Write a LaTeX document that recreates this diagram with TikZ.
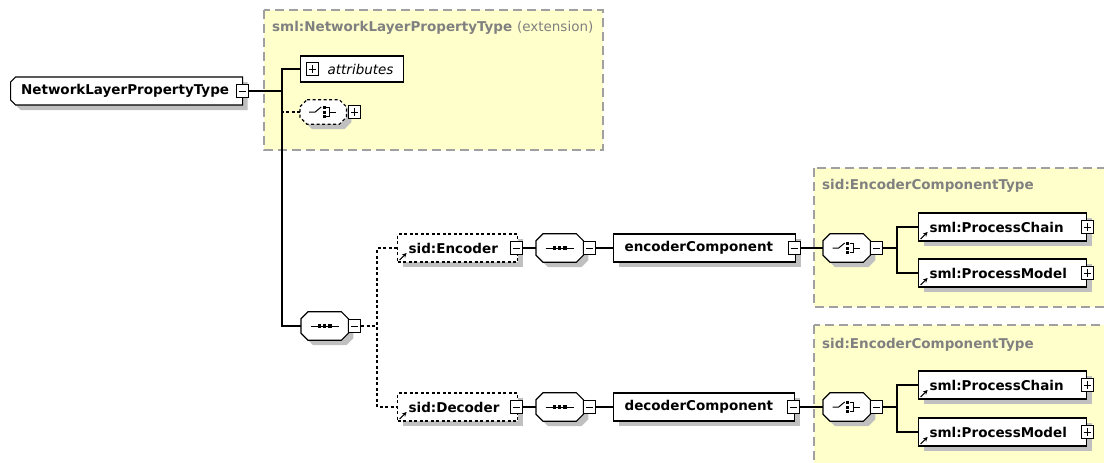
\documentclass[tikz,border=0pt]{standalone}
\usepackage{fontspec}
\setmainfont{DejaVu Sans}
\usetikzlibrary{shapes.misc, shadows, arrows.meta}
\definecolor{panelfill}{RGB}{255,255,204}
\definecolor{panelline}{RGB}{160,160,160}
\definecolor{titlegray}{RGB}{128,128,128}
\definecolor{shadowgray}{RGB}{192,192,192}
% octagon round a named node, moved by #2
\newcommand\octshape[2]{([shift={#2},xshift=7pt]#1.north west) -- ([shift={#2},xshift=-7pt]#1.north east)
    -- ([shift={#2},yshift=-7pt]#1.north east) -- ([shift={#2},yshift=7pt]#1.south east)
    -- ([shift={#2},xshift=-7pt]#1.south east) -- ([shift={#2},xshift=7pt]#1.south west)
    -- ([shift={#2},yshift=7pt]#1.south west) -- ([shift={#2},yshift=-7pt]#1.north west) -- cycle}
\newcommand\seqicon[1]{%
    \draw[line width=1pt] ([xshift=-14pt]#1.center) -- ([xshift=14pt]#1.center);
    \foreach \dx in {-7,-1.75,3.5} \fill ([shift={(\dx pt,-1.75pt)}]#1.center) rectangle ++(3.5pt,3.5pt);}
\newcommand\choiceicon[1]{%
    \draw[line width=1pt] ([xshift=-14pt]#1.center) -- ([xshift=-8pt]#1.center) -- ([shift={(-2pt,5pt)}]#1.center);
    \draw[line width=1pt] ([shift={(3pt,4.5pt)}]#1.center) -| ([shift={(6.5pt,-4.5pt)}]#1.center) -- ([shift={(3pt,-4.5pt)}]#1.center);
    \draw[line width=1pt] ([xshift=6.5pt]#1.center) -- ([xshift=13pt]#1.center);
    \foreach \dy in {3,-1.5,-6} \fill ([shift={(-0.5pt,\dy pt)}]#1.center) rectangle ++(3pt,3pt);}
\tikzset{
    lbl/.style={font=\fontsize{13.5}{15}\selectfont\bfseries},
    shad/.style={general shadow={fill=shadowgray, shadow xshift=5pt, shadow yshift=-5pt}},
    panel/.style={draw=panelline, fill=panelfill, line width=1.3pt, dash pattern=on 9pt off 5pt},
    ptitle/.style={text=titlegray, anchor=west, inner sep=0pt, lbl},
    conn/.style={line width=1.2pt},
    dconn/.style={conn, dash pattern=on 3pt off 2.5pt},
    opt/.style={dash pattern=on 3pt off 2.5pt},
    elem/.style={draw, fill=white, line width=1.2pt, minimum height=28pt, text width=#1, align=left, inner xsep=11pt, inner ysep=0pt, anchor=west, lbl, shad},
    refd/.style={path picture={\draw[solid, line width=1.2pt, -{Stealth[length=4.5pt, width=4.5pt]}] ([shift={(2pt,2pt)}]path picture bounding box.south west) -- ++(7pt,7pt);}},
    octa/.style={minimum width=47pt, minimum height=28pt, inner sep=0pt, anchor=west,
        append after command={\pgfextra{
            \fill[shadowgray] \octshape{\tikzlastnode}{(5pt,-5pt)};
            \filldraw[fill=white, line width=1.2pt, #1] \octshape{\tikzlastnode}{(0pt,0pt)};}}},
    octa/.default=solid,
    seq/.style={octa=#1, append after command={\pgfextra{\seqicon{\tikzlastnode}}}},
    seq/.default=solid,
    choice/.style={octa=#1, append after command={\pgfextra{\choiceicon{\tikzlastnode}}}},
    choice/.default=solid,
    pmbox/.style={draw, fill=white, line width=1pt, minimum width=12pt, minimum height=13pt, inner sep=0pt},
    minus/.style={pmbox, path picture={\draw[line width=1pt] ([xshift=2.5pt]path picture bounding box.west) -- ([xshift=-2.5pt]path picture bounding box.east);}},
    plus/.style={pmbox, path picture={\draw[line width=1pt] ([xshift=2.5pt]path picture bounding box.west) -- ([xshift=-2.5pt]path picture bounding box.east) ([yshift=-2.5pt]path picture bounding box.north) -- ([yshift=2.5pt]path picture bounding box.south);}},
    attrbox/.style={draw, fill=white, line width=1.2pt, minimum height=26pt, text width=85pt, align=left, inner xsep=9pt, inner ysep=0pt, anchor=west, font=\fontsize{13.5}{15}\selectfont\itshape}
}

\begin{document}
\begin{tikzpicture}[x=1pt, y=-1pt]
    \clip (0,0) rectangle (1104,463);
    % type panels
    \draw[panel] (264,10) rectangle (603,150);
    \node[ptitle] (ttl1) at (272,28) {sml:NetworkLayerPropertyType \mdseries(extension)};
    \draw[panel] (814,168) rectangle (1115,307);
    \node[ptitle] (ttl2) at (822,186) {sid:EncoderComponentType};
    \draw[panel] (814,325) rectangle (1115,475);
    \node[ptitle] (ttl3) at (822,345) {sid:EncoderComponentType};

    % root and its extension
    \node[elem=211pt, chamfered rectangle, chamfered rectangle corners={north west, south west},
          chamfered rectangle xsep=2.5pt, chamfered rectangle ysep=2.5pt, inner xsep=8pt] (root) at (10,91) {NetworkLayerPropertyType};
    \node[minus] (rootm) at ([xshift=-1pt]root.east) {};
    \node[attrbox] (attr) at (300,69) {\hspace*{18pt}attributes};
    \node[plus] (attrp) at (312,69) {};
    \node[choice=opt, minimum width=46pt, minimum height=24pt] (ch0) at (300,112) {};
    \node[plus, anchor=west] (ch0p) at ([xshift=2pt]ch0.east) {};
    \node[seq] (seq0) at (301,326) {};
    \node[minus, anchor=west] (seq0m) at (seq0.east) {};

    % encoder row
    \node[elem=98pt, opt, refd] (enc) at (397,248) {sid:Encoder};
    \node[minus] (encm) at ([xshift=-2pt]enc.east) {};
    \node[seq] (seqE) at (536,248) {};
    \node[minus, anchor=west] (seqEm) at (seqE.east) {};
    \node[elem=160pt] (ecomp) at (613,248) {encoderComponent};
    \node[minus] (ecompm) at ([xshift=-2pt]ecomp.east) {};
    \node[choice] (chE) at (823,248) {};
    \node[minus, anchor=west] (chEm) at (chE.east) {};
    \node[elem=146pt, refd] (pc1) at (918,227) {sml:ProcessChain};
    \node[plus] (pc1p) at (pc1.east) {};
    \node[elem=146pt, refd] (pm1) at (918,273) {sml:ProcessModel};
    \node[plus] (pm1p) at (pm1.east) {};

    % decoder row
    \node[elem=98pt, opt, refd] (dec) at (397,407) {sid:Decoder};
    \node[minus] (decm) at ([xshift=-2pt]dec.east) {};
    \node[seq] (seqD) at (536,407) {};
    \node[minus, anchor=west] (seqDm) at (seqD.east) {};
    \node[elem=159pt] (dcomp) at (613,407) {decoderComponent};
    \node[minus] (dcompm) at ([xshift=-2pt]dcomp.east) {};
    \node[choice] (chD) at (823,407) {};
    \node[minus, anchor=west] (chDm) at (chD.east) {};
    \node[elem=146pt, refd] (pc2) at (918,385) {sml:ProcessChain};
    \node[plus] (pc2p) at (pc2.east) {};
    \node[elem=146pt, refd] (pm2) at (918,432) {sml:ProcessModel};
    \node[plus] (pm2p) at (pm2.east) {};

    % connectors
    \coordinate (j0) at (282,91);
    \coordinate (j1) at (377,326);
    \coordinate (jE) at (897,248);
    \coordinate (jD) at (897,407);
    \draw[conn] (rootm.east) -- (j0);
    \draw[conn] (attr.west) -| (j0) |- (seq0.west);
    \draw[dconn] (ch0.west) -- (ch0.west -| j0);
    \draw[dconn] (seq0m.east) -- (j1);
    \draw[dconn] (enc.west) -| (j1) |- (dec.west);
    \draw[conn] (encm) -- (seqE);
    \draw[conn] (seqEm) -- (ecomp);
    \draw[conn] (ecompm) -- (chE);
    \draw[conn] (chEm.east) -- (jE);
    \draw[conn] (pc1.west) -| (jE) |- (pm1.west);
    \draw[conn] (decm) -- (seqD);
    \draw[conn] (seqDm) -- (dcomp);
    \draw[conn] (dcompm) -- (chD);
    \draw[conn] (chDm.east) -- (jD);
    \draw[conn] (pc2.west) -| (jD) |- (pm2.west);
\end{tikzpicture}
\end{document}
